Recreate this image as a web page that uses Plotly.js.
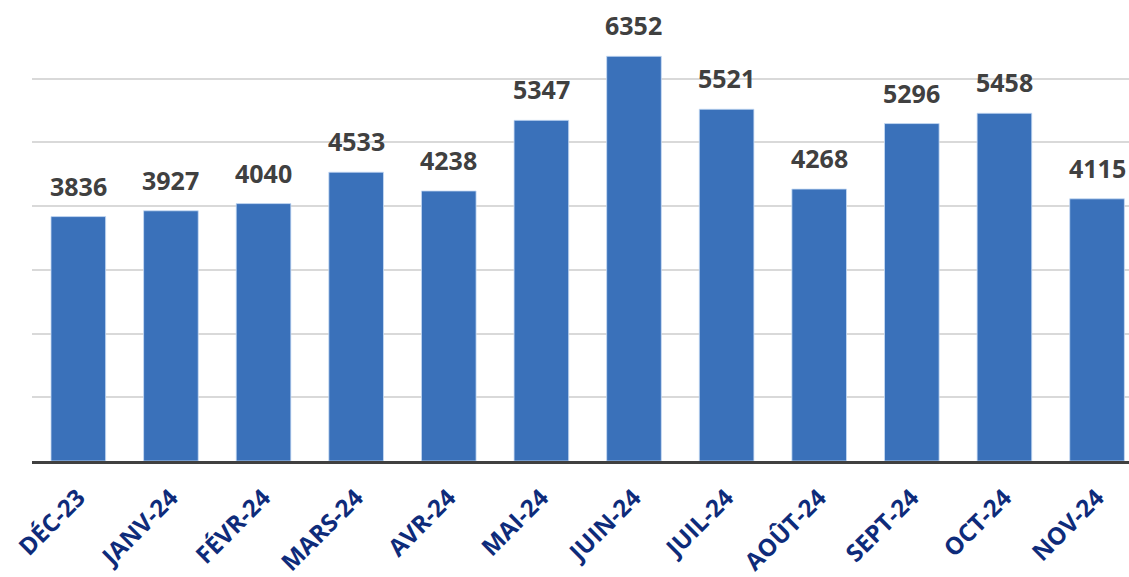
<!DOCTYPE html>
<html>
<head>
<meta charset="utf-8">
<script src="https://cdn.plot.ly/plotly-3.0.1.min.js"></script>
<style>html,body{margin:0;padding:0;background:#fff;}#chart{width:1129px;height:577px;}</style>
</head>
<body>
<div id="chart"></div>
<script>
const categories = ["DÉC-23","JANV-24","FÉVR-24","MARS-24","AVR-24","MAI-24","JUIN-24","JUIL-24","AOÛT-24","SEPT-24","OCT-24","NOV-24"];
const values = [3836,3927,4040,4533,4238,5347,6352,5521,4268,5296,5458,4115];

const trace = {
  type: 'bar',
  x: categories,
  y: values,
  marker: {color: '#3A71BA', line: {color: 'rgba(200,220,245,0.8)', width: 1}},
  hoverinfo: 'none'
};

const annotations = categories.map((c, i) => ({
  x: c, y: values[i], xref: 'x', yref: 'y',
  text: String(values[i]), showarrow: false,
  yanchor: 'bottom', yshift: 12,
  font: {family: '"Open Sans", Lato, sans-serif', size: 25, color: '#404040', weight: 700}
}));

const layout = {
  width: 1129, height: 577,
  margin: {l: 32, r: 0, t: 15, b: 116},
  paper_bgcolor: '#ffffff', plot_bgcolor: '#ffffff',
  showlegend: false,
  bargap: 0.41,
  xaxis: {
    type: 'category',
    range: [-0.5, 11.345],
    tickangle: -45,
    ticks: '',
    ticklabelstandoff: 10,
    tickfont: {family: '"Open Sans", Lato, sans-serif', size: 24, color: '#0E2B7A', weight: 700},
    showline: true, linecolor: '#404040', linewidth: 3,
    showgrid: false, zeroline: false
  },
  yaxis: {
    range: [0, 7000],
    dtick: 1000,
    showticklabels: false,
    ticks: '',
    showgrid: true, gridcolor: '#D9D9D9', gridwidth: 2,
    zeroline: false, showline: false
  },
  annotations: annotations
};

Plotly.newPlot('chart', [trace], layout, {displayModeBar: false, staticPlot: true});
</script>
</body>
</html>
